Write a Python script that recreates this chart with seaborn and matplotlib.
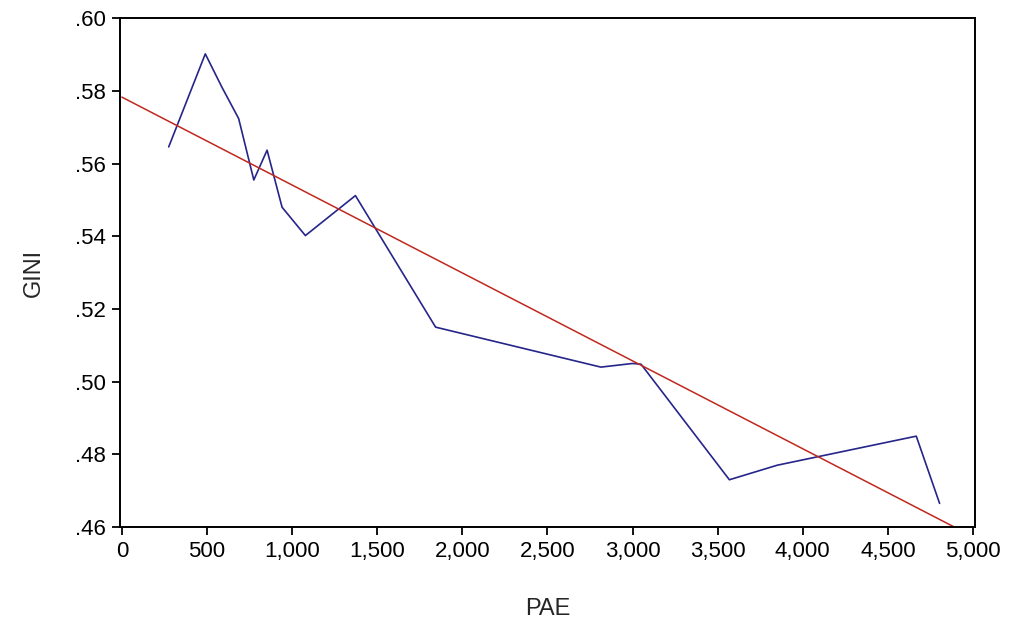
import matplotlib
matplotlib.use("Agg")
import matplotlib.pyplot as plt
import seaborn as sns
from matplotlib.ticker import FuncFormatter, MultipleLocator

# PAE vs GINI series
pae = [275, 490, 588, 686, 775, 853, 941, 1078, 1372, 1843, 2814, 3000, 3050, 3569, 3850, 4667, 4804]
gini = [0.5646, 0.5902, 0.5810, 0.5724, 0.5555, 0.5637, 0.5480, 0.5402, 0.5512, 0.5150, 0.5040, 0.5050, 0.5048, 0.4730, 0.4770, 0.4850, 0.4665]

# fitted line end points
fit_pae = [0, 4890]
fit_gini = [0.5783, 0.4600]

sns.set_style("white")
plt.rcParams['font.family'] = ['Liberation Sans', 'DejaVu Sans']

fig = plt.figure(figsize=(10.1, 6.3), dpi=100)
ax = fig.add_axes([0.119, 0.1635, 0.846, 0.8075])

sns.lineplot(x=pae, y=gini, ax=ax, color="#25258a", linewidth=1.2, estimator=None, sort=False)
sns.lineplot(x=fit_pae, y=fit_gini, ax=ax, color="#c0281e", linewidth=1.1, estimator=None, sort=False)

ax.set_xlim(-10, 5010)
ax.set_ylim(0.46, 0.60)
ax.xaxis.set_major_locator(MultipleLocator(500))
ax.yaxis.set_major_locator(MultipleLocator(0.02))
ax.xaxis.set_major_formatter(FuncFormatter(lambda v, p: f"{v:,.0f}"))
ax.yaxis.set_major_formatter(FuncFormatter(lambda v, p: f"{v:.2f}".lstrip("0")))

for s in ax.spines.values():
    s.set_color("black")
    s.set_linewidth(1.4)

ax.tick_params(axis="both", which="both", direction="out", length=6, width=1.3,
               labelsize=16, colors="black", bottom=True, left=True, top=False, right=False, pad=4)

ax.set_xlabel("PAE", fontsize=17, labelpad=26)
ax.set_ylabel("GINI", fontsize=17, labelpad=22)

fig.savefig("out.png", dpi=100)
